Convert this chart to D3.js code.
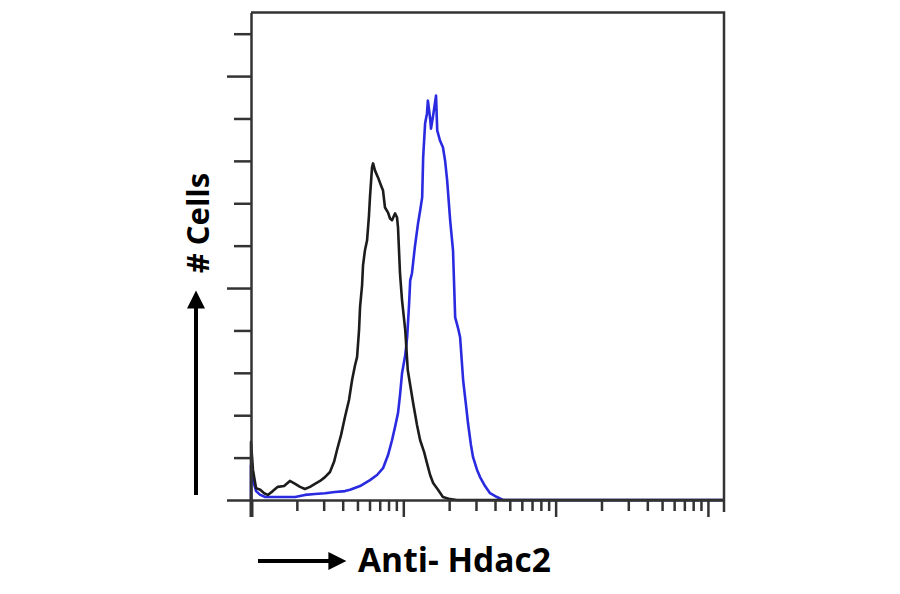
<!DOCTYPE html>
<html>
<head>
<meta charset="utf-8">
<script src="https://cdn.jsdelivr.net/npm/d3@7"></script>
<style>
  html, body { margin: 0; padding: 0; background: #fff; }
  text { font-family: "Open Sans", "DejaVu Sans", sans-serif; font-weight: bold; }
</style>
</head>
<body>
<div id="chart"></div>
<script>
// fluorescence intensity (log axis) and cell counts
var isoX = [1, 1, 1.03, 1.08, 1.15, 1.22, 1.29, 1.39, 1.50, 1.65, 1.80, 1.95, 2.10, 2.26, 2.44, 2.63, 2.84, 3.06, 3.30, 3.51, 3.67, 3.90, 4.14, 4.40, 4.61, 4.82, 4.97, 5.12, 5.20, 5.36, 5.44, 5.60, 5.78, 5.95, 6.04, 6.23, 6.33, 6.52, 6.82, 7.14, 7.36, 7.58, 7.94, 8.18, 8.43, 8.82, 9.09, 9.23, 9.37, 9.51, 9.81, 10.3, 10.7, 11.6, 12.3, 12.9, 13.7, 14.3, 15.0, 15.7, 16.9, 18.2, 20.3, 22.5, 27.4, 1275];
var isoY = [0, 13.7, 7.1, 2.8, 2.4, 1.6, 1.2, 2.1, 3.1, 3.3, 4.5, 3.8, 3.1, 2.6, 3.1, 3.8, 4.5, 5.4, 6.6, 9.0, 11.8, 15.3, 19.6, 23.6, 28.3, 31.8, 33.7, 40.0, 45.5, 50.6, 55.4, 58.9, 61.2, 67.1, 71.4, 78.4, 79.4, 77.7, 76.1, 74.2, 73.0, 69.0, 67.8, 66.4, 66.0, 67.6, 66.7, 64.3, 58.9, 53.5, 47.1, 40.0, 30.6, 22.9, 17.7, 14.1, 11.3, 8.7, 5.9, 4.0, 2.4, 0.7, 0.2, 0, 0, 0];

var hdacX = [1, 1, 1.03, 1.08, 1.15, 1.24, 1.44, 1.67, 1.95, 2.26, 2.63, 3.06, 3.56, 4.14, 4.47, 5.20, 6.04, 6.72, 7.36, 7.94, 8.43, 8.82, 9.23, 9.51, 9.81, 10.3, 10.6, 10.9, 11.1, 11.4, 11.9, 12.5, 12.9, 13.3, 13.5, 13.9, 14.3, 14.5, 15.0, 15.2, 15.7, 16.4, 16.7, 17.4, 18.2, 18.8, 19.4, 20.3, 21.2, 21.9, 22.9, 23.6, 24.7, 25.8, 26.6, 27.8, 28.7, 30.5, 31.9, 34.4, 37.1, 41.2, 45.1, 50.2, 1275];
var hdacY = [0, 8.2, 4.7, 2.1, 1.2, 0.7, 0.7, 0.7, 0.7, 1.2, 1.4, 1.6, 1.9, 2.1, 2.4, 3.3, 4.7, 5.9, 7.5, 10.6, 14.1, 17.2, 20.5, 24.7, 29.9, 34.2, 38.4, 45.9, 51.8, 53.5, 59.6, 65.3, 68.3, 71.4, 80.8, 88.8, 91.2, 94.2, 90.0, 87.6, 90.7, 95.4, 87.2, 84.8, 83.2, 80.1, 75.4, 66.0, 58.9, 43.1, 40.5, 38.4, 28.3, 22.4, 18.1, 13.0, 10.1, 7.1, 5.4, 3.3, 1.6, 0.7, 0, 0, 0];

var yTicks = [0, 10, 20, 30, 40, 50, 60, 70, 80, 90, 100, 110];
var yMajor = [0, 50, 100];
var xDecades = [1, 10, 100, 1000];
var xLabel = "Anti- Hdac2";
var yLabel = "# Cells";

(function () {
  var width = 900, height = 594;
  var mLeft = 251, mRight = 724, mTop = 12.5, mBottom = 500;
  var axisColor = "#333";

  var svg = d3.select("#chart").append("svg")
    .attr("width", width).attr("height", height);

  var x = d3.scaleLog().domain([1, 1275]).range([mLeft, mRight]);
  var y = d3.scaleLinear().domain([0, 115]).range([mBottom, mTop]);

  var xTicks = [];
  xDecades.forEach(function (d) {
    for (var k = 1; k <= 9; k++) if (d * k <= 1275) xTicks.push(d * k);
  });

  // curves
  var line = d3.line()
    .x(function (d) { return x(d[0]); })
    .y(function (d) { return y(d[1]); });

  svg.append("path")
    .datum(d3.zip(hdacX, hdacY))
    .attr("d", line)
    .attr("fill", "none")
    .attr("stroke", "#2a2ae0")
    .attr("stroke-width", 2.6)
    .attr("stroke-linejoin", "round");

  svg.append("path")
    .datum(d3.zip(isoX, isoY))
    .attr("d", line)
    .attr("fill", "none")
    .attr("stroke", "#1c1c1c")
    .attr("stroke-width", 2.6)
    .attr("stroke-linejoin", "round");

  // axes
  var yAxis = svg.append("g")
    .attr("transform", "translate(" + mLeft + ",0)")
    .call(d3.axisLeft(y).tickValues(yTicks).tickSize(17).tickSizeOuter(0).tickFormat(""));
  yAxis.selectAll(".tick line")
    .attr("x2", function (d) { return yMajor.indexOf(d) >= 0 ? -24 : -17; })
    .attr("stroke-width", 2.5);

  var xAxis = svg.append("g")
    .attr("transform", "translate(0," + mBottom + ")")
    .call(d3.axisBottom(x).tickValues(xTicks).tickSize(11).tickSizeOuter(0).tickFormat(""));
  xAxis.selectAll(".tick line")
    .attr("y2", function (d) { return xDecades.indexOf(d) >= 0 ? 17 : 11; })
    .attr("stroke-width", function (d) { return d === 1 ? 4 : 2.5; });

  svg.selectAll(".domain").attr("stroke", axisColor).attr("stroke-width", 2.5);
  svg.selectAll(".tick line").attr("stroke", axisColor);

  // frame top and right
  svg.append("path")
    .attr("d", "M" + mLeft + "," + mTop + "H" + mRight + "V" + (mBottom + 12))
    .attr("fill", "none")
    .attr("stroke", axisColor)
    .attr("stroke-width", 2.5);

  // axis titles with arrows
  svg.append("defs").append("marker")
    .attr("id", "head")
    .attr("viewBox", "0 0 10 10")
    .attr("refX", 2).attr("refY", 5)
    .attr("markerWidth", 5.5).attr("markerHeight", 4.5)
    .attr("markerUnits", "strokeWidth")
    .attr("orient", "auto")
    .append("path").attr("d", "M0,0L10,5L0,10Z").attr("fill", "#000");

  svg.append("line")
    .attr("x1", 196).attr("y1", 495).attr("x2", 196).attr("y2", 305)
    .attr("stroke", "#000").attr("stroke-width", 4)
    .attr("marker-end", "url(#head)");

  svg.append("text")
    .attr("transform", "translate(209,223) rotate(-90)")
    .attr("text-anchor", "middle")
    .attr("font-size", 31)
    .text(yLabel);

  svg.append("line")
    .attr("x1", 258).attr("y1", 561).attr("x2", 332).attr("y2", 561)
    .attr("stroke", "#000").attr("stroke-width", 4)
    .attr("marker-end", "url(#head)");

  svg.append("text")
    .attr("x", 358).attr("y", 572)
    .attr("font-size", 33.5)
    .text(xLabel);
})();
</script>
</body>
</html>
